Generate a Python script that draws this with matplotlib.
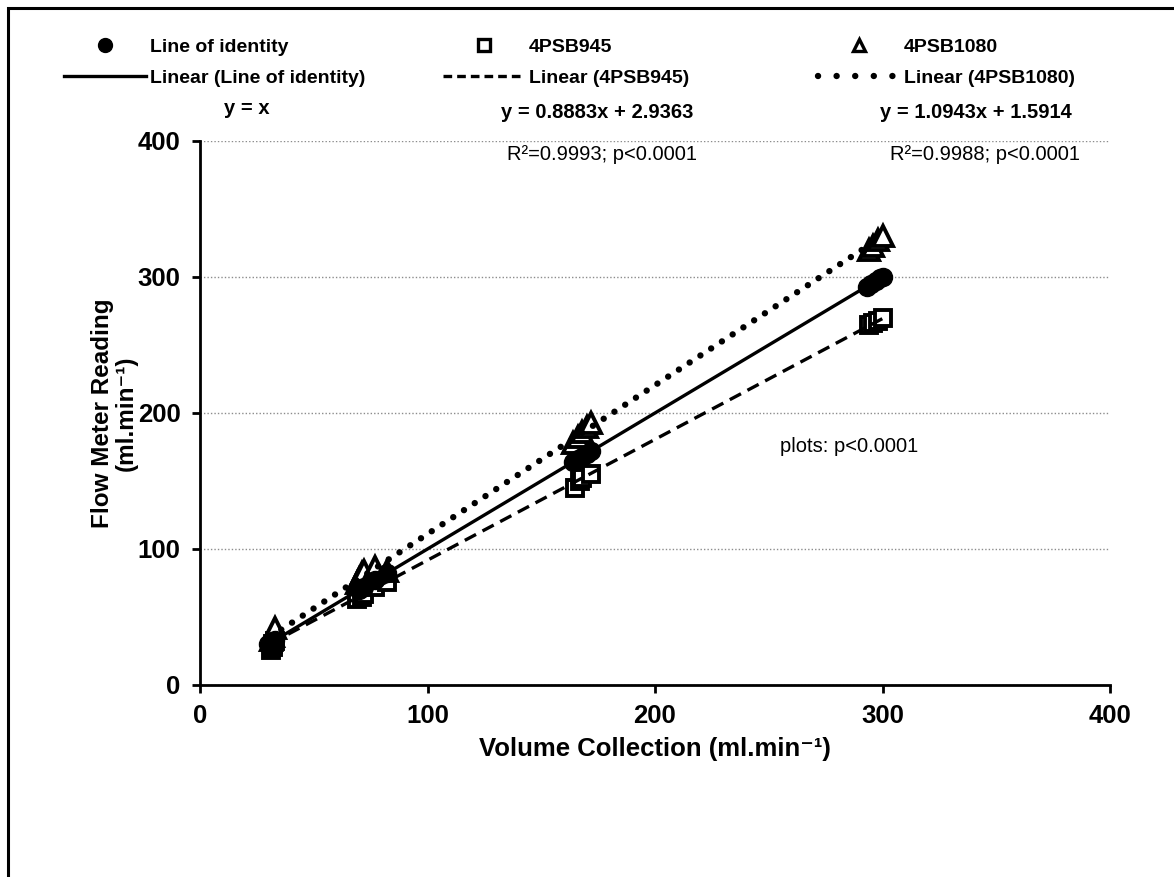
import numpy as np
import matplotlib
matplotlib.use("Agg")
import matplotlib.pyplot as plt
from matplotlib.lines import Line2D
from matplotlib.patches import Rectangle

plt.rcParams['font.family'] = ['Liberation Sans', 'DejaVu Sans']

# volume collection vs flow meter reading (ml/min)
x_identity = [30, 31, 32, 33, 70, 71, 72, 77, 82, 164, 166, 168, 170, 172, 293, 295, 297, 299, 300]
y_identity = [30, 31, 32, 33, 70, 71, 72, 77, 82, 164, 166, 168, 170, 172, 293, 295, 297, 299, 300]

x_945 = [31, 32, 32, 33, 69, 71, 72, 77, 82, 165, 167, 168, 172, 294, 296, 298, 300]
y_945 = [26, 28, 30, 32, 63, 65, 67, 72, 76, 145, 150, 152, 155, 265, 266, 268, 270]

x_1080 = [31, 32, 33, 69, 70, 71, 72, 77, 82, 164, 166, 168, 170, 172, 294, 296, 298, 300]
y_1080 = [33, 36, 42, 75, 78, 82, 84, 87, 84, 178, 182, 186, 190, 193, 320, 323, 327, 330]

# trendline coefficients (slope, intercept)
fit_identity = (1.0, 0.0)
fit_945 = (0.8883, 2.9363)
fit_1080 = (1.0943, 1.5914)

eq_texts = ["y = x", "y = 0.8883x + 2.9363", "y = 1.0943x + 1.5914"]
r2_texts = ["R²=0.9993; p<0.0001", "R²=0.9988; p<0.0001"]
ticks = [0, 100, 200, 300, 400]

W, H = 1174, 877
fig = plt.figure(figsize=(W / 100, H / 100), dpi=100)
ax = fig.add_axes([200 / W, 1 - 685 / H, 910 / W, 544 / H])

def fx(px):
    return px / W

def fy(py):
    return 1 - py / H

# outer frame
fig.add_artist(Rectangle((fx(8), -0.2), 1.5, fy(8) + 0.2, transform=fig.transFigure,
                         fill=False, edgecolor='black', linewidth=2.2))

ax.set_xlim(0, 400)
ax.set_ylim(0, 400)
ax.set_xticks(ticks)
ax.set_yticks(ticks)
ax.yaxis.grid(True, linestyle=(0, (1, 1.5)), color='#8c8c8c', linewidth=1.0)
ax.set_axisbelow(True)
for s in ['top', 'right']:
    ax.spines[s].set_visible(False)
for s in ['left', 'bottom']:
    ax.spines[s].set_linewidth(2.0)
ax.tick_params(direction='out', length=6, width=2.0, labelsize=18.5, pad=8)
for lab in ax.get_xticklabels() + ax.get_yticklabels():
    lab.set_fontweight('bold')

mk = dict(markerfacecolor='white', markeredgecolor='black', markeredgewidth=2.8,
          linestyle='none', zorder=3)
ax.plot(x_945, y_945, marker='s', markersize=12, **mk)
ax.plot(x_1080, y_1080, marker='^', markersize=15, **mk)
ax.plot(x_identity, y_identity, marker='o', markersize=13, color='black',
        linestyle='none', zorder=3)

def trend(xs, fit):
    xr = np.array([min(xs), max(xs)], dtype=float)
    return xr, fit[0] * xr + fit[1]

solid_kw = dict(color='black', linewidth=2.4)
dash_kw = dict(color='black', linewidth=2.4, linestyle=(0, (3.8, 2.2)))
dot_kw = dict(color='black', linewidth=4.6, linestyle=(0, (0.01, 2.0)),
              dash_capstyle='round')

ax.plot(*trend(x_identity, fit_identity), zorder=4, **solid_kw)
ax.plot(*trend(x_945, fit_945), zorder=4, **dash_kw)
ax.plot(*trend(x_1080, fit_1080), zorder=4, **dot_kw)

ax.set_xlabel("Volume Collection (ml.min⁻¹)", fontsize=18.5,
              fontweight='bold', labelpad=6)
ax.set_ylabel("Flow Meter Reading\n(ml.min⁻¹)", fontsize=17.5,
              fontweight='bold', labelpad=0, linespacing=1.05)

# legend, one column per series
leg_dash = dict(color='black', linewidth=2.4, linestyle=(0, (2.6, 1.5)))
leg_dot = dict(color='black', linewidth=4.6, linestyle=(0, (0.01, 2.9)),
               dash_capstyle='round')
legend_cols = [
    (64, Line2D([], [], marker='o', color='black', linestyle='none', markersize=10),
     "Line of identity", Line2D([], [], **solid_kw), "Linear (Line of identity)"),
    (443, Line2D([], [], marker='s', markersize=8, markerfacecolor='white',
                 markeredgecolor='black', markeredgewidth=2.4, linestyle='none'),
     "4PSB945", Line2D([], [], **leg_dash), "Linear (4PSB945)"),
    (818, Line2D([], [], marker='^', markersize=9, markerfacecolor='white',
                 markeredgecolor='black', markeredgewidth=2.4, linestyle='none'),
     "4PSB1080", Line2D([], [], **leg_dot), "Linear (4PSB1080)"),
]
for x0, h1, t1, h2, t2 in legend_cols:
    fig.legend([h1, h2], [t1, t2], loc='upper left', bbox_to_anchor=(fx(x0), fy(38)),
               frameon=False, borderpad=0, borderaxespad=0, handlelength=4.2,
               handletextpad=0.2, labelspacing=0.72,
               prop=dict(family='Liberation Sans', weight='bold', size=14))

for cx, cy, t in zip([247, 597, 976], [109, 112, 112], eq_texts):
    fig.text(fx(cx), fy(cy), t, ha='center', va='center', fontsize=14.5, fontweight='bold')

for cx, t in zip([602, 985], r2_texts):
    fig.text(fx(cx), fy(155), t, ha='center', va='center', fontsize=14.5)

fig.text(fx(849), fy(446), "plots: p<0.0001", ha='center', va='center', fontsize=14.5)

fig.savefig("out.png", dpi=100)
